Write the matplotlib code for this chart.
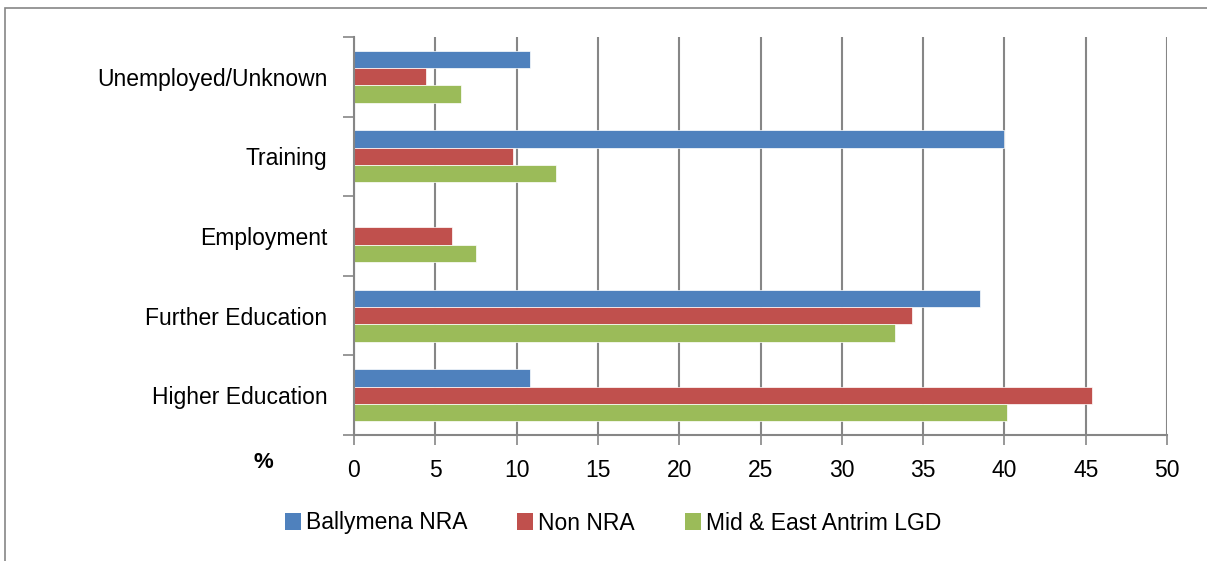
import numpy as np
import matplotlib.pyplot as plt
from matplotlib.patches import Rectangle, Patch

plt.rcParams['font.family'] = ['Liberation Sans', 'DejaVu Sans']

# data
categories = ['Higher Education', 'Further Education', 'Employment', 'Training', 'Unemployed/Unknown']
series_names = ['Ballymena NRA', 'Non NRA', 'Mid & East Antrim LGD']
ballymena = [10.8, 38.5, 0.0, 40.0, 10.8]
non_nra = [45.4, 34.3, 6.05, 9.75, 4.45]
mid_east = [40.15, 33.25, 7.5, 12.4, 6.6]
colors = ['#4F81BD', '#C0504D', '#9BBB59']

fig = plt.figure(figsize=(12.07, 5.61), dpi=100)
ax = fig.add_axes([354/1207, 1 - 435/561, (1167-354)/1207, (435-37)/561])

# outer chart border
fig.patches.append(Rectangle((5/1207, -0.1), 1.2, (561-8)/561 + 0.1, transform=fig.transFigure,
                             fill=False, edgecolor='#868686', linewidth=1.2, zorder=0))

y = np.arange(len(categories))
h = 0.218
for i, (vals, c) in enumerate(zip([ballymena, non_nra, mid_east], colors)):
    ax.barh(y + (1 - i) * h, vals, height=h, color=c, edgecolor='white', linewidth=0.5,
            label=series_names[i], zorder=3)

ax.set_xlim(0, 50)
ax.set_ylim(-0.5, len(categories) - 0.5)
ax.set_xticks(np.arange(0, 51, 5))
ax.tick_params(axis='x', labelsize=16.5, length=7, width=1.2, color='#868686', pad=10, direction='out')
ax.set_yticks(y)
ax.set_yticklabels(categories)
ax.set_yticks(np.arange(-0.5, len(categories), 1), minor=True)
ax.tick_params(axis='y', which='major', length=0, labelsize=16.5, pad=19)
ax.tick_params(axis='y', which='minor', length=8, width=1.2, color='#868686')
ax.grid(axis='x', color='#868686', linewidth=1.5, zorder=0)
for s in ['top', 'right']:
    ax.spines[s].set_visible(False)
for s in ['left', 'bottom']:
    ax.spines[s].set_color('#868686')
    ax.spines[s].set_linewidth(1.5)
    ax.spines[s].set_zorder(4)

fig.text(263/1207, 1 - 463/561, '%', fontsize=16, fontweight='bold', ha='center', va='center')

handles = [Patch(facecolor=c) for c in colors]
fig.legend(handles, series_names, loc='center', bbox_to_anchor=(613/1207, 1 - 523/561), ncol=3,
           frameon=False, fontsize=16.5, handlelength=0.7, handleheight=0.7, handletextpad=0.2,
           columnspacing=2.2)

fig.savefig('out.png', dpi=100)
